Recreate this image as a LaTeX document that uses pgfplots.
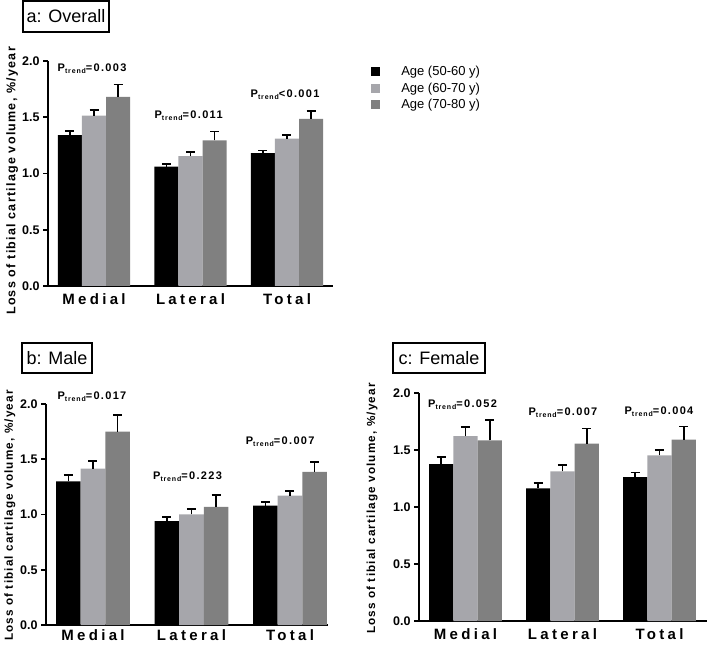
\documentclass[border=0pt]{standalone}
\usepackage{fontspec}
\setmainfont{Liberation Sans}
\newfontfamily\catfont[LetterSpace=22]{Liberation Sans}
\newfontfamily\labfont[LetterSpace=10]{Liberation Sans}
\newfontfamily\pfont[LetterSpace=12]{Liberation Sans}
\usepackage{pgfplots}
\pgfplotsset{compat=1.18}
\definecolor{lgray}{RGB}{166,166,171}
\definecolor{dgray}{RGB}{128,128,128}

% P_trend annotation
\newcommand{\ptrend}[1]{{\pfont\bfseries\fontsize{11}{11}\selectfont P\raisebox{-2pt}{\fontsize{7}{7}\selectfont trend}#1}}

\pgfplotsset{
  panel/.style={
    scale only axis, ybar=0pt, bar width=0.25,
    axis lines=left, axis line style={line width=1.6pt,-},
    enlargelimits=false, ymin=0, ymax=2, clip=false,
    ytick={0,0.5,1,1.5,2}, yticklabels={0.0,0.5,1.0,1.5,2.0},
    xtick={0,1,2}, xticklabels={Medial,Lateral,Total},
    tick align=outside, major tick length=5pt,
    ytick style={line width=1.6pt,black}, xtick style={draw=none},
    yticklabel style={font=\bfseries\fontsize{12.5}{12.5}\selectfont},
    xticklabel style={font=\catfont\bfseries\fontsize{15}{15}\selectfont, yshift=1pt},
    ylabel={Loss of tibial cartilage volume, \%/year},
    error bars/y dir=plus, error bars/y explicit,
    error bars/error bar style={line width=1.6pt,black},
    error bars/error mark options={rotate=90,line width=1.6pt,black,mark size=4.5pt},
  },
  bk/.style={fill=black,draw=none},
  lg/.style={fill=lgray,draw=none},
  dg/.style={fill=dgray,draw=none},
}

\begin{document}
\begin{tikzpicture}
\useasboundingbox (0,0) rectangle (709pt,645pt);

% ---- a: Overall
\begin{axis}[panel, at={(48pt,359pt)}, anchor=south west,
    width=285pt, height=225pt, xmin=-0.477, xmax=2.477,
    ylabel style={font=\labfont\bfseries\fontsize{12.5}{12.5}\selectfont,
        at={(axis description cs:-0.126,0.467)}, anchor=center},
    legend style={at={(axis description cs:1.123,0.99)}, anchor=north west,
        draw=none, fill=none, font=\fontsize{13}{13}\selectfont,
        nodes={inner sep=1pt}, row sep=3.5pt},
    legend cell align=left,
    legend image code/.code={\path[#1] (0pt,-4.5pt) rectangle (9pt,4.5pt); \path[draw=none,fill=none] (0pt,0pt) -- (29pt,0pt);},
  ]
  \addplot[bk] coordinates {(0,1.34) +- (0,0.04) (1,1.06) +- (0,0.025) (2,1.18) +- (0,0.025)};
  \addplot[lg] coordinates {(0,1.515) +- (0,0.05) (1,1.155) +- (0,0.035) (2,1.31) +- (0,0.03)};
  \addplot[dg] coordinates {(0,1.68) +- (0,0.11) (1,1.295) +- (0,0.08) (2,1.485) +- (0,0.07)};
  \legend{Age (50-60 y), Age (60-70 y), Age (70-80 y)}
  \node at (axis cs:-0.02,1.93) {\ptrend{=0.003}};
  \node at (axis cs:0.98,1.51) {\ptrend{=0.011}};
  \node at (axis cs:1.98,1.70) {\ptrend{<0.001}};
\end{axis}

% ---- b: Male
\begin{axis}[panel, at={(46pt,20pt)}, anchor=south west,
    width=282pt, height=221pt, xmin=-0.477, xmax=2.386,
    xticklabel style={yshift=3pt},
    ylabel style={font=\labfont\bfseries\fontsize{11.7}{11.7}\selectfont,
        at={(axis description cs:-0.128,0.495)}, anchor=center},
  ]
  \addplot[bk] coordinates {(0,1.30) +- (0,0.06) (1,0.94) +- (0,0.04) (2,1.08) +- (0,0.035)};
  \addplot[lg] coordinates {(0,1.415) +- (0,0.07) (1,1.00) +- (0,0.05) (2,1.17) +- (0,0.04)};
  \addplot[dg] coordinates {(0,1.75) +- (0,0.15) (1,1.07) +- (0,0.105) (2,1.385) +- (0,0.09)};
  \node at (axis cs:-0.01,2.07) {\ptrend{=0.017}};
  \node at (axis cs:0.96,1.34) {\ptrend{=0.223}};
  \node at (axis cs:1.9,1.66) {\ptrend{=0.007}};
\end{axis}

% ---- c: Female
\begin{axis}[panel, at={(419pt,24pt)}, anchor=south west,
    width=288pt, height=228pt, xmin=-0.479, xmax=2.49,
    ylabel style={font=\labfont\bfseries\fontsize{11.7}{11.7}\selectfont,
        at={(axis description cs:-0.163,0.493)}, anchor=center},
  ]
  \addplot[bk] coordinates {(0,1.375) +- (0,0.065) (1,1.163) +- (0,0.045) (2,1.262) +- (0,0.042)};
  \addplot[lg] coordinates {(0,1.622) +- (0,0.08) (1,1.312) +- (0,0.058) (2,1.452) +- (0,0.05)};
  \addplot[dg] coordinates {(0,1.585) +- (0,0.18) (1,1.555) +- (0,0.135) (2,1.59) +- (0,0.117)};
  \node at (axis cs:-0.03,1.895) {\ptrend{=0.052}};
  \node at (axis cs:1.005,1.825) {\ptrend{=0.007}};
  \node at (axis cs:1.995,1.833) {\ptrend{=0.004}};
\end{axis}

% panel titles
\node[draw, line width=1.6pt, minimum width=86pt, minimum height=31pt, inner sep=0pt,
  font=\fontsize{18}{18}\selectfont] at (66pt,628.5pt) {a: Overall};
\node[draw, line width=1.6pt, minimum width=70pt, minimum height=30pt, inner sep=0pt,
  font=\fontsize{18}{18}\selectfont] at (57pt,287pt) {b: Male};
\node[draw, line width=1.6pt, minimum width=92pt, minimum height=30pt, inner sep=0pt,
  font=\fontsize{18}{18}\selectfont] at (439pt,287pt) {c: Female};
\end{tikzpicture}
\end{document}
